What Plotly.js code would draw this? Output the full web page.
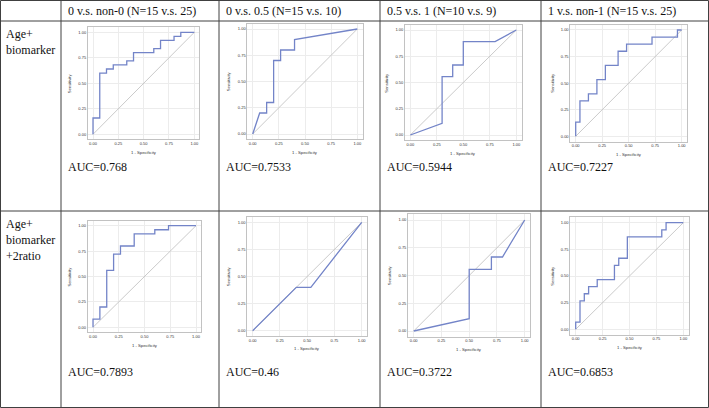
<!DOCTYPE html>
<html><head><meta charset="utf-8">
<script src="https://cdn.plot.ly/plotly-3.0.1.min.js"></script>
<style>html,body{margin:0;padding:0;background:#fff}#chart{width:709px;height:408px}</style>
</head><body><div id="chart"></div>
<script>
// ---------- data ----------
const columnHeaders = ["0 v.s. non-0 (N=15 v.s. 25)", "0 v.s. 0.5 (N=15 v.s. 10)", "0.5 v.s. 1 (N=10 v.s. 9)", "1 v.s. non-1 (N=15 v.s. 25)"];
const rowLabelLines = [["Age+", "biomarker"], ["Age+", "biomarker", "+2ratio"]];
const aucRow1 = ["AUC=0.768", "AUC=0.7533", "AUC=0.5944", "AUC=0.7227"];
const aucRow2 = ["AUC=0.7893", "AUC=0.46", "AUC=0.3722", "AUC=0.6853"];
const tickValues = [0, 0.25, 0.5, 0.75, 1];
const tickLabels = ["0.00", "0.25", "0.50", "0.75", "1.00"];
const xTitle = "1 - Specificity";
const yTitle = "Sensitivity";
const diagX = [0, 1];
const diagY = [0, 1];

const fpr_r1c1 = [0, 0, 0.0667, 0.0667, 0.1333, 0.1333, 0.2, 0.2, 0.3333, 0.3333, 0.4, 0.4, 0.6, 0.6, 0.6667, 0.6667, 0.8, 0.8, 0.8667, 0.8667, 1];
const tpr_r1c1 = [0, 0.16, 0.16, 0.6, 0.6, 0.64, 0.64, 0.68, 0.68, 0.72, 0.72, 0.8, 0.8, 0.84, 0.84, 0.92, 0.92, 0.96, 0.96, 1, 1];

const fpr_r1c2 = [0, 0.0667, 0.1333, 0.1333, 0.2, 0.2, 0.2667, 0.2667, 0.4, 0.4, 1];
const tpr_r1c2 = [0, 0.2, 0.2, 0.3, 0.3, 0.7, 0.7, 0.8, 0.8, 0.9, 1];

const fpr_r1c3 = [0, 0.3, 0.3, 0.4, 0.4, 0.5, 0.5, 0.8, 1];
const tpr_r1c3 = [0, 0.1111, 0.5556, 0.5556, 0.6667, 0.6667, 0.8889, 0.8889, 1];

const fpr_r1c4 = [0, 0, 0.04, 0.04, 0.12, 0.12, 0.2, 0.2, 0.28, 0.28, 0.4, 0.4, 0.48, 0.48, 0.72, 0.72, 0.96, 0.96, 1];
const tpr_r1c4 = [0, 0.1333, 0.1333, 0.3333, 0.3333, 0.4, 0.4, 0.5333, 0.5333, 0.6667, 0.6667, 0.8, 0.8, 0.8667, 0.8667, 0.9333, 0.9333, 1, 1];

const fpr_r2c1 = [0, 0, 0.0667, 0.0667, 0.1333, 0.1333, 0.2, 0.2, 0.2667, 0.2667, 0.4, 0.4, 0.6, 0.6, 0.7333, 0.7333, 1];
const tpr_r2c1 = [0, 0.08, 0.08, 0.2, 0.2, 0.56, 0.56, 0.72, 0.72, 0.8, 0.8, 0.92, 0.92, 0.96, 0.96, 1, 1];

const fpr_r2c2 = [0, 0.4, 0.5333, 1];
const tpr_r2c2 = [0, 0.4, 0.4, 1];

const fpr_r2c3 = [0, 0.5, 0.5, 0.7, 0.7, 0.8, 1];
const tpr_r2c3 = [0, 0.1111, 0.5556, 0.5556, 0.6667, 0.6667, 1];

const fpr_r2c4 = [0, 0, 0.04, 0.04, 0.08, 0.08, 0.12, 0.12, 0.2, 0.2, 0.36, 0.36, 0.4, 0.4, 0.48, 0.48, 0.8, 0.8, 0.84, 0.84, 1];
const tpr_r2c4 = [0, 0.0667, 0.0667, 0.2667, 0.2667, 0.3333, 0.3333, 0.4, 0.4, 0.4667, 0.4667, 0.6, 0.6, 0.6667, 0.6667, 0.8667, 0.8667, 0.9333, 0.9333, 1, 1];

// ---------- layout geometry (pixels) ----------
const W = 709, H = 408;
const curves = [[fpr_r1c1, tpr_r1c1], [fpr_r1c2, tpr_r1c2], [fpr_r1c3, tpr_r1c3], [fpr_r1c4, tpr_r1c4],
                [fpr_r2c1, tpr_r2c1], [fpr_r2c2, tpr_r2c2], [fpr_r2c3, tpr_r2c3], [fpr_r2c4, tpr_r2c4]];
// [x at 0, x at 1, y-pixel at 1, y-pixel at 0]
const panels = [
  [93, 194.3, 32.3, 134.3], [252.7, 357.3, 29, 134], [410.3, 516.3, 30, 135], [575.7, 681.7, 30, 136.3],
  [93, 196, 225.7, 327.3], [252.7, 361.7, 222.3, 330.7], [413.7, 524.7, 220, 331], [575.7, 683.3, 222.7, 329.3]
];
const colX = [61, 219, 380, 541];
const rowY = [21, 211];
const PAD = 0.05;
const px = v => v / W;
const py = v => 1 - v / H;

const data = [];
const layout = {
  width: W, height: H, margin: {l: 0, r: 0, t: 0, b: 0},
  paper_bgcolor: '#fff', plot_bgcolor: '#fff', showlegend: false,
  font: {family: 'Liberation Sans, Arial, sans-serif', color: '#222'},
  shapes: [], annotations: []
};

const serif = {family: 'Liberation Serif, Times New Roman, serif', size: 12, color: '#111'};

panels.forEach((p, i) => {
  const k = i + 1;
  const xa = 'x' + (k === 1 ? '' : k), ya = 'y' + (k === 1 ? '' : k);
  const [x0, x1, yTop, yBot] = p;
  const w = x1 - x0, h = yBot - yTop;
  const dx = [px(x0 - PAD * w), px(x1 + PAD * w)];
  const dy = [py(yBot + PAD * h), py(yTop - PAD * h)];
  const axCommon = {
    range: [-PAD, 1 + PAD], tickvals: tickValues, ticktext: tickLabels, showgrid: true,
    gridcolor: '#ececec', gridwidth: 1, zeroline: false, showline: true, mirror: true,
    linecolor: '#c2c2c2', linewidth: 1, ticks: '', tickfont: {size: 4, color: '#333'},
    fixedrange: true
  };
  layout['xaxis' + (k === 1 ? '' : k)] = Object.assign({}, axCommon, {domain: dx, anchor: ya});
  layout['yaxis' + (k === 1 ? '' : k)] = Object.assign({}, axCommon, {domain: dy, anchor: xa});
  data.push({x: diagX, y: diagY, xaxis: xa, yaxis: ya, mode: 'lines', line: {color: '#bdbdbd', width: 0.8}, hoverinfo: 'skip'});
  data.push({x: curves[i][0], y: curves[i][1], xaxis: xa, yaxis: ya, mode: 'lines', line: {color: '#7384c8', width: 1.3}, hoverinfo: 'skip'});
  // axis titles
  layout.annotations.push({xref: 'paper', yref: 'paper', x: px((x0 + x1) / 2), y: py(yBot + 18), text: xTitle,
    showarrow: false, font: {size: 4.2, color: '#333'}, xanchor: 'center', yanchor: 'middle'});
  layout.annotations.push({xref: 'paper', yref: 'paper', x: px(x0 - 24), y: py((yTop + yBot) / 2), text: yTitle,
    showarrow: false, font: {size: 4.2, color: '#333'}, textangle: -90, xanchor: 'center', yanchor: 'middle'});
});

// table lines
const lineStyle = {color: '#404040', width: 1};
layout.shapes.push({type: 'rect', xref: 'paper', yref: 'paper', x0: px(0.5), x1: px(708.5), y0: py(407.5), y1: py(0.5), line: lineStyle});
colX.forEach(c => layout.shapes.push({type: 'line', xref: 'paper', yref: 'paper', x0: px(c), x1: px(c), y0: py(0.5), y1: py(407.5), line: lineStyle}));
rowY.forEach(r => layout.shapes.push({type: 'line', xref: 'paper', yref: 'paper', x0: px(0.5), x1: px(708.5), y0: py(r), y1: py(r), line: lineStyle}));

// headers
columnHeaders.forEach((t, j) => layout.annotations.push({xref: 'paper', yref: 'paper', x: px(colX[j] + 5), y: py(11),
  text: t, showarrow: false, font: serif, xanchor: 'left', yanchor: 'middle'}));
// row labels
const rowLabelStart = [34, 224];
rowLabelLines.forEach((lines, r) => lines.forEach((t, n) => layout.annotations.push({xref: 'paper', yref: 'paper',
  x: px(4), y: py(rowLabelStart[r] + n * 16), text: t, showarrow: false, font: serif, xanchor: 'left', yanchor: 'middle'})));
// AUC labels
const aucY = [167, 372];
[aucRow1, aucRow2].forEach((row, r) => row.forEach((t, j) => layout.annotations.push({xref: 'paper', yref: 'paper',
  x: px(colX[j] + 5), y: py(aucY[r]), text: t, showarrow: false, font: serif, xanchor: 'left', yanchor: 'middle'})));

Plotly.newPlot('chart', data, layout, {staticPlot: true, displayModeBar: false});
</script></body></html>
